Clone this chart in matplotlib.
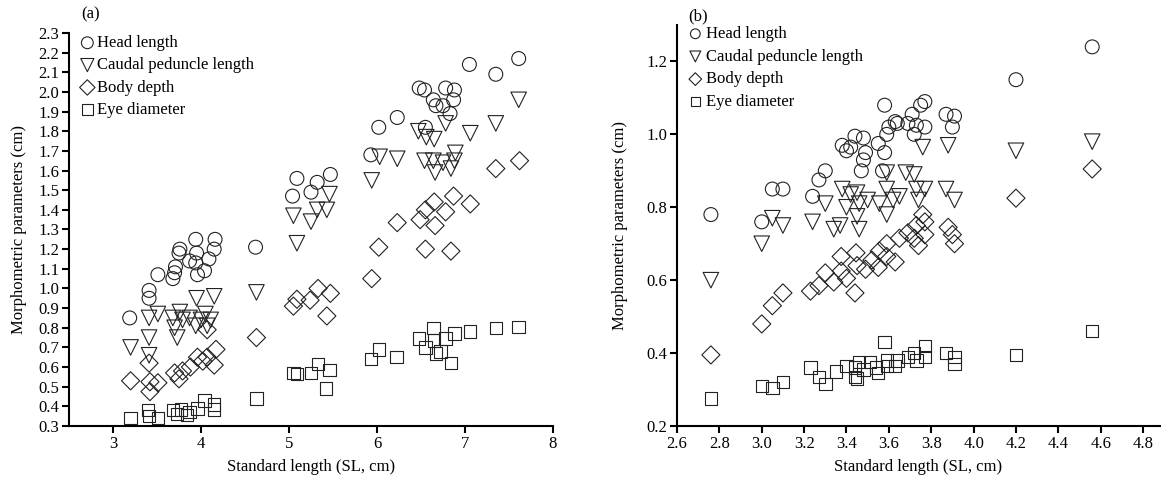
import numpy as np
import matplotlib
matplotlib.use("Agg")
import matplotlib.pyplot as plt
from matplotlib.ticker import FormatStrFormatter, MultipleLocator

plt.rcParams['font.family'] = ['Liberation Serif', 'DejaVu Serif']
plt.rcParams['font.size'] = 12

# ---------- panel (a) data ----------
a_head_x = [3.19, 3.41, 3.41, 3.51, 3.68, 3.70, 3.71, 3.75, 3.76, 3.87, 3.94, 3.95, 3.94, 3.96,
            4.04, 4.09, 4.15, 4.16, 4.62, 5.04, 5.09, 5.25, 5.32, 5.47, 5.93, 6.02, 6.23, 6.55,
            6.64, 6.67, 6.75, 6.83, 6.48, 6.54, 6.78, 6.88, 6.87, 7.05, 7.35, 7.61]
a_head_y = [0.85, 0.99, 0.95, 1.07, 1.05, 1.08, 1.11, 1.18, 1.20, 1.14, 1.25, 1.18, 1.13, 1.07,
            1.09, 1.15, 1.20, 1.25, 1.21, 1.47, 1.56, 1.49, 1.54, 1.58, 1.68, 1.82, 1.87, 1.82,
            1.96, 1.93, 1.93, 1.89, 2.02, 2.01, 2.02, 2.01, 1.96, 2.14, 2.09, 2.17]

a_caudal_x = [3.20, 3.41, 3.41, 3.41, 3.51, 3.68, 3.70, 3.73, 3.76, 3.79, 3.87, 3.94, 3.95, 4.00,
              4.05, 4.07, 4.11, 4.15, 4.63, 5.09, 5.05, 5.25, 5.32, 5.43, 5.46, 5.94, 6.03, 6.23,
              6.47, 6.56, 6.65, 6.54, 6.64, 6.66, 6.75, 6.84, 6.89, 6.88, 6.78, 7.06, 7.35, 7.61]
a_caudal_y = [0.70, 0.85, 0.75, 0.66, 0.87, 0.85, 0.80, 0.75, 0.88, 0.84, 0.85, 0.81, 0.95, 0.84,
              0.87, 0.81, 0.84, 0.96, 0.98, 1.23, 1.37, 1.34, 1.40, 1.40, 1.48, 1.55, 1.67, 1.66,
              1.80, 1.77, 1.76, 1.65, 1.65, 1.59, 1.64, 1.61, 1.69, 1.65, 1.84, 1.79, 1.84, 1.96]

a_body_x = [3.20, 3.41, 3.42, 3.42, 3.51, 3.70, 3.75, 3.79, 3.88, 3.96, 4.02, 4.07, 4.15, 4.17,
            4.07, 4.63, 5.05, 5.09, 5.24, 5.33, 5.47, 5.43, 5.94, 6.02, 6.23, 6.49, 6.55, 6.55,
            6.65, 6.66, 6.78, 6.84, 6.87, 7.06, 7.35, 7.62]
a_body_y = [0.53, 0.62, 0.525, 0.475, 0.52, 0.57, 0.54, 0.58, 0.60, 0.65, 0.63, 0.65, 0.61, 0.69,
            0.79, 0.75, 0.91, 0.945, 0.94, 1.00, 0.975, 0.86, 1.05, 1.21, 1.335, 1.35, 1.20, 1.40,
            1.44, 1.32, 1.39, 1.19, 1.47, 1.43, 1.61, 1.65]

a_eye_x = [3.20, 3.40, 3.41, 3.51, 3.68, 3.73, 3.77, 3.84, 3.87, 3.96, 4.04, 4.15, 4.15, 4.63,
           5.05, 5.09, 5.25, 5.33, 5.46, 5.42, 5.93, 6.02, 6.22, 6.48, 6.55, 6.64, 6.65, 6.67,
           6.72, 6.78, 6.84, 6.88, 7.06, 7.35, 7.61]
a_eye_y = [0.34, 0.38, 0.35, 0.34, 0.38, 0.36, 0.385, 0.355, 0.37, 0.39, 0.43, 0.41, 0.385, 0.44,
           0.57, 0.565, 0.57, 0.615, 0.585, 0.49, 0.64, 0.69, 0.65, 0.745, 0.70, 0.80, 0.735, 0.67,
           0.68, 0.745, 0.62, 0.77, 0.78, 0.80, 0.805]

# ---------- panel (b) data ----------
b_head_x = [2.76, 3.00, 3.05, 3.10, 3.24, 3.27, 3.30, 3.38, 3.40, 3.42, 3.44, 3.48, 3.49, 3.48,
            3.47, 3.57, 3.58, 3.55, 3.59, 3.60, 3.58, 3.63, 3.64, 3.69, 3.71, 3.73, 3.72, 3.77,
            3.75, 3.77, 3.87, 3.91, 3.90, 4.20, 4.56]
b_head_y = [0.78, 0.76, 0.85, 0.85, 0.83, 0.875, 0.90, 0.97, 0.955, 0.965, 0.995, 0.99, 0.95, 0.93,
            0.90, 0.90, 0.95, 0.975, 1.00, 1.02, 1.08, 1.035, 1.03, 1.03, 1.055, 1.025, 1.00, 1.02,
            1.08, 1.09, 1.055, 1.05, 1.02, 1.15, 1.24]

b_caudal_x = [2.76, 3.00, 3.05, 3.10, 3.24, 3.30, 3.34, 3.37, 3.38, 3.40, 3.42, 3.45, 3.46, 3.45,
              3.46, 3.50, 3.555, 3.59, 3.59, 3.59, 3.62, 3.65, 3.68, 3.72, 3.73, 3.74, 3.77, 3.76,
              3.88, 3.87, 3.91, 4.20, 4.56]
b_caudal_y = [0.60, 0.70, 0.77, 0.75, 0.76, 0.81, 0.74, 0.75, 0.85, 0.80, 0.835, 0.84, 0.81, 0.775,
              0.74, 0.82, 0.81, 0.895, 0.85, 0.78, 0.82, 0.83, 0.895, 0.89, 0.85, 0.82, 0.85, 0.965,
              0.97, 0.85, 0.82, 0.955, 0.98]

b_body_x = [2.76, 3.00, 3.05, 3.10, 3.23, 3.27, 3.30, 3.34, 3.375, 3.375, 3.40, 3.44, 3.445, 3.45,
            3.49, 3.52, 3.55, 3.555, 3.59, 3.59, 3.63, 3.65, 3.69, 3.72, 3.74, 3.77, 3.73, 3.77,
            3.76, 3.88, 3.90, 3.91, 4.20, 4.56]
b_body_y = [0.395, 0.48, 0.53, 0.565, 0.57, 0.585, 0.62, 0.595, 0.665, 0.625, 0.605, 0.565, 0.675, 0.64,
            0.63, 0.655, 0.635, 0.68, 0.70, 0.665, 0.65, 0.715, 0.73, 0.715, 0.695, 0.725, 0.75, 0.76,
            0.78, 0.745, 0.725, 0.70, 0.825, 0.905]

b_eye_x = [2.76, 3.00, 3.05, 3.10, 3.23, 3.27, 3.30, 3.35, 3.40, 3.44, 3.44, 3.45, 3.46, 3.48,
           3.51, 3.54, 3.55, 3.58, 3.59, 3.59, 3.63, 3.64, 3.69, 3.72, 3.73, 3.77, 3.77, 3.87,
           3.91, 3.91, 4.20, 4.56]
b_eye_y = [0.275, 0.31, 0.305, 0.32, 0.36, 0.335, 0.315, 0.35, 0.365, 0.36, 0.335, 0.33, 0.375, 0.355,
           0.375, 0.36, 0.345, 0.43, 0.365, 0.38, 0.365, 0.38, 0.39, 0.40, 0.38, 0.42, 0.39, 0.40,
           0.37, 0.39, 0.395, 0.46]

labels = ['Head length', 'Caudal peduncle length', 'Body depth', 'Eye diameter']
markers = ['o', 'v', 'D', 's']
sizes = [100, 125, 85, 80]

fig = plt.figure(figsize=(11.61, 4.79), dpi=100)
ax1 = fig.add_axes([69/1161, 53/479, (553-69)/1161, (426-33)/479])
ax2 = fig.add_axes([677/1161, 53/479, (1160-677)/1161, (426-25)/479])

series_a = [(a_head_x, a_head_y), (a_caudal_x, a_caudal_y), (a_body_x, a_body_y), (a_eye_x, a_eye_y)]
series_b = [(b_head_x, b_head_y), (b_caudal_x, b_caudal_y), (b_body_x, b_body_y), (b_eye_x, b_eye_y)]

for ax, series in [(ax1, series_a), (ax2, series_b)]:
    for (xs, ys), lab, mk, s in zip(series, labels, markers, sizes):
        ax.scatter(xs, ys, s=s, marker=mk, facecolors='none', edgecolors='#222222',
                   linewidths=0.8, label=lab)
    for side in ['top', 'right']:
        ax.spines[side].set_visible(False)
    for side in ['left', 'bottom']:
        ax.spines[side].set_linewidth(1.5)
    ax.tick_params(direction='out', length=5, width=1.5, pad=2)
    ax.set_xlabel('Standard length (SL, cm)', labelpad=5)

ax1.set_ylabel('Morphometric parameters (cm)', labelpad=8)
ax2.set_ylabel('Morphometric parameters (cm)', labelpad=13)

ax1.set_xlim(2.5, 8)
ax1.set_ylim(0.3, 2.3)
ax1.xaxis.set_major_locator(MultipleLocator(1))
ax1.yaxis.set_major_locator(MultipleLocator(0.1))
ax1.yaxis.set_major_formatter(FormatStrFormatter('%.1f'))

ax2.set_xlim(2.6, 4.88)
ax2.set_ylim(0.2, 1.3)
ax2.set_xticks(np.arange(2.6, 4.81, 0.2))
ax2.xaxis.set_major_formatter(FormatStrFormatter('%.1f'))
ax2.set_yticks(np.arange(0.2, 1.21, 0.2))
ax2.yaxis.set_major_formatter(FormatStrFormatter('%.1f'))

ax1.legend(loc='upper left', bbox_to_anchor=(0.0, 1.02), frameon=False, handletextpad=0.1,
           borderaxespad=0.2, labelspacing=0.38, markerscale=0.85, handlelength=1.0)
ax2.legend(loc='upper left', bbox_to_anchor=(0.0, 1.02), frameon=False, handletextpad=0.1,
           borderaxespad=0.15, labelspacing=0.4, markerscale=0.7, handlelength=1.1)

fig.text(81/1161, 1 - 14/479, '(a)', ha='left', va='center')
fig.text(688/1161, 1 - 16/479, '(b)', ha='left', va='center')

plt.savefig("out.png")
